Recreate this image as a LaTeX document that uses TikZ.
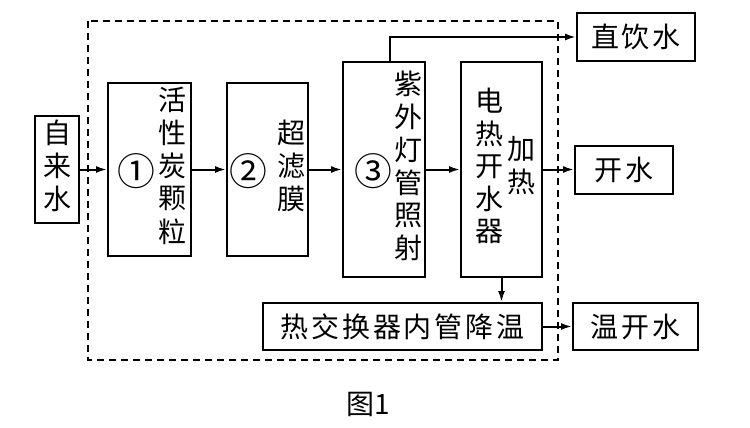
\documentclass[tikz,border=0pt]{standalone}
\usepackage{fontspec}
\setmainfont{Noto Sans CJK SC}
\newfontfamily\widecjk[LetterSpace=10]{Noto Sans CJK SC}
\usetikzlibrary{arrows.meta}

\newcommand{\vcol}[1]{\begin{tabular}{@{}c@{}}#1\end{tabular}}
\newcommand{\stepno}[1]{\raisebox{-4.5pt}{\scalebox{1.35}{#1}}}

\begin{document}
\begin{tikzpicture}[x=0.5pt, y=-0.5pt, line width=1pt,
        >={Latex[length=5.5pt,width=3.5pt]},
        every node/.style={font=\fontsize{14}{16}\selectfont, inner sep=0pt},
        box/.style n args={2}{draw, minimum width=#1, minimum height=#2},
        outtext/.style={font=\widecjk\fontsize{14}{16}\selectfont}]
    \useasboundingbox (0,0) rectangle (750,428);
    % Define frame
        \draw[dashed, dash pattern=on 3.5pt off 2.5pt] (88,21) rectangle (558,360);
    % Define boxes
        \node[box={22pt}{53.5pt}] (tap) at (57,169.5) {\vcol{自\\来\\水}};
        \node[box={41.5pt}{86.5pt}] (carbon) at (149.5,169.5)
            {\begin{tabular}{@{\hspace{2.5pt}}c@{\hspace{2pt}}c@{}}\stepno{①}&\vcol{活\\性\\炭\\颗\\粒}\end{tabular}};
        \node[box={40.5pt}{86.5pt}] (filter) at (267.5,169.5)
            {\begin{tabular}{@{}c@{\hspace{5pt}}c@{}}\stepno{②}&\vcol{超\\滤\\膜}\end{tabular}};
        \node[box={41pt}{107.5pt}] (uv) at (384,169.5)
            {\begin{tabular}{@{\hspace{4.5pt}}c@{\hspace{1.5pt}}c@{}}\stepno{③}&\vcol{紫\\外\\灯\\管\\照\\射}\end{tabular}};
        \node[box={40.5pt}{107.5pt}] (heater) at (501.5,169.5)
            {\begin{tabular}{@{\hspace{3.5pt}}c@{\hspace{2pt}}c@{}}\vcol{电\\热\\开\\水\\器}&\vcol{加\\热}\end{tabular}};
        \node[box={139.5pt}{23.5pt}, outtext] (hx) at (402.5,326.5) {热交换器内管降温};
        \node[box={59pt}{24pt}, outtext] (direct) at (636,37) {直饮水};
        \node[box={49pt}{24pt}, outtext] (boiled) at (624,169.5) {开水};
        \node[box={62.5pt}{23.5pt}, outtext] (warm) at (635.5,326.5) {温开水};
        \node (caption) at (368,404) {图1};
    % Draw arrows
        \draw[->] (tap) -- (carbon);
        \draw[->] (carbon) -- (filter);
        \draw[->] (filter) -- (uv);
        \draw[->] (uv) -- (heater);
        \draw[->] (heater) -- (boiled);
        \draw[->] ([xshift=3pt]uv.north) |- (direct.west);
        \draw[->] (heater.south) -- (heater.south |- hx.north);
        \draw[->] (hx) -- (warm);
\end{tikzpicture}
\end{document}
